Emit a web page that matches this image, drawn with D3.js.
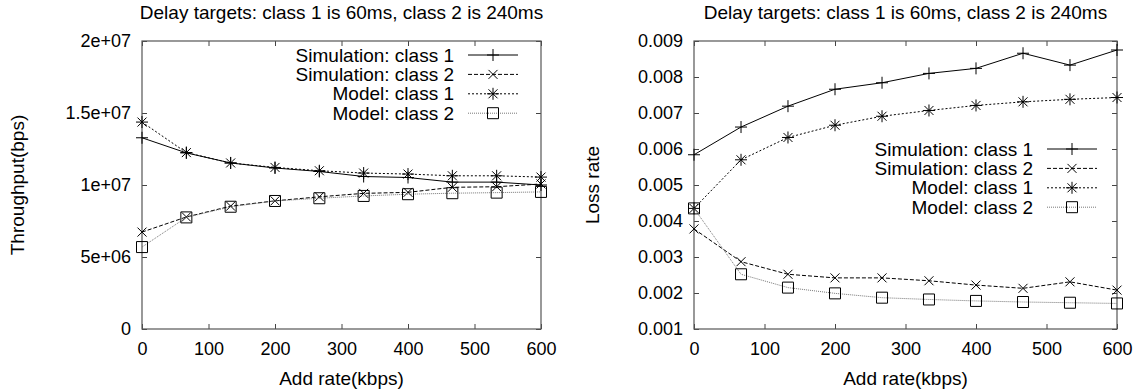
<!DOCTYPE html>
<html>
<head>
<meta charset="utf-8">
<script src="https://cdn.jsdelivr.net/npm/d3@7"></script>
<style>
    body { margin: 0; background: #fff; }
    text { font-family: "Liberation Sans", Arial, sans-serif; fill: #000; }
</style>
</head>
<body>
<div id="chart"></div>
<script>
const dim = {
    width: 1139,
    height: 392
}

// data
const addRate = [0, 66.7, 133.3, 200, 266.7, 333.3, 400, 466.7, 533.3, 600]

const simClass1Tput = [13.28e6, 12.23e6, 11.53e6, 11.18e6, 10.94e6, 10.59e6, 10.52e6, 10.2e6, 10.2e6, 10.0e6]
const simClass2Tput = [6.73e6, 7.78e6, 8.53e6, 8.90e6, 9.18e6, 9.42e6, 9.49e6, 9.84e6, 9.88e6, 10.07e6]
const modelClass1Tput = [14.37e6, 12.25e6, 11.53e6, 11.22e6, 10.99e6, 10.83e6, 10.76e6, 10.64e6, 10.64e6, 10.55e6]
const modelClass2Tput = [5.69e6, 7.75e6, 8.49e6, 8.89e6, 9.08e6, 9.24e6, 9.36e6, 9.43e6, 9.47e6, 9.52e6]

const simClass1Loss = [0.00584, 0.00661, 0.00719, 0.00766, 0.00784, 0.00810, 0.00824, 0.00866, 0.00833, 0.00875]
const simClass2Loss = [0.00378, 0.00287, 0.00252, 0.00242, 0.00242, 0.00234, 0.00222, 0.00213, 0.00231, 0.00208]
const modelClass1Loss = [0.00435, 0.0057, 0.00632, 0.00666, 0.00691, 0.00707, 0.00721, 0.00731, 0.00738, 0.00743]
const modelClass2Loss = [0.00435, 0.00252, 0.00215, 0.00199, 0.00187, 0.00182, 0.00178, 0.00175, 0.00173, 0.00171]

const xTicks = [0, 100, 200, 300, 400, 500, 600]
const tputTicks = [0, 5e6, 1e7, 1.5e7, 2e7]
const tputTickLabels = ['0', '5e+06', '1e+07', '1.5e+07', '2e+07']
const lossTicks = [0.001, 0.002, 0.003, 0.004, 0.005, 0.006, 0.007, 0.008, 0.009]
const lossTickLabels = ['0.001', '0.002', '0.003', '0.004', '0.005', '0.006', '0.007', '0.008', '0.009']

const seriesNames = ['Simulation: class 1', 'Simulation: class 2', 'Model: class 1', 'Model: class 2']
const title = 'Delay targets: class 1 is 60ms, class 2 is 240ms'

// line / marker styles per series
const styles = [
    { dash: null, color: '#000', marker: 'plus' },
    { dash: '4,2', color: '#000', marker: 'cross' },
    { dash: '2,2', color: '#000', marker: 'star' },
    { dash: '1,1', color: '#777', marker: 'square' }
]

const fontSize = 19
const tickFontSize = 18

const svg = d3.select('#chart')
    .append('svg')
        .attr('width', dim.width)
        .attr('height', dim.height)

function markerPath(type, s) {
    const p = d3.path()
    if (type === 'plus' || type === 'star') {
        p.moveTo(-s, 0); p.lineTo(s, 0)
        p.moveTo(0, -s); p.lineTo(0, s)
    }
    if (type === 'cross' || type === 'star') {
        const k = s * 0.75
        p.moveTo(-k, -k); p.lineTo(k, k)
        p.moveTo(-k, k); p.lineTo(k, -k)
    }
    if (type === 'square') {
        p.rect(-s + 0.5, -s + 0.5, 2 * s - 1, 2 * s - 1)
    }
    return p.toString()
}

function drawPanel(cfg) {
    const g = svg.append('g')

    const xScale = d3.scaleLinear()
        .domain([0, 600])
        .range([cfg.left, cfg.right])

    const yScale = d3.scaleLinear()
        .domain(cfg.yDomain)
        .range([cfg.bottom, cfg.top])

    // axes, ticks point inwards like gnuplot
    g.append('g')
        .attr('transform', `translate(0,${cfg.bottom})`)
        .call(d3.axisBottom(xScale).tickValues(xTicks).tickSizeInner(-5).tickSizeOuter(0).tickPadding(13))
    g.append('g')
        .attr('transform', `translate(0,${cfg.top})`)
        .call(d3.axisTop(xScale).tickValues(xTicks).tickSizeInner(-5).tickSizeOuter(0).tickFormat(''))
    g.append('g')
        .attr('transform', `translate(${cfg.left},0)`)
        .call(d3.axisLeft(yScale).tickValues(cfg.yTicks).tickSizeInner(-5).tickSizeOuter(0).tickPadding(11)
            .tickFormat((d, i) => cfg.yTickLabels[i]))
    g.append('g')
        .attr('transform', `translate(${cfg.right},0)`)
        .call(d3.axisRight(yScale).tickValues(cfg.yTicks).tickSizeInner(-5).tickSizeOuter(0).tickFormat(''))

    g.selectAll('.domain').remove()
    g.selectAll('.tick line').attr('stroke', '#444')
    g.selectAll('.tick text')
        .style('font-size', tickFontSize + 'px')
        .style('font-family', '"Liberation Sans", Arial, sans-serif')
        .attr('fill', '#000')

    g.append('rect')
        .attr('x', cfg.left)
        .attr('y', cfg.top)
        .attr('width', cfg.right - cfg.left)
        .attr('height', cfg.bottom - cfg.top)
        .attr('fill', 'none')
        .attr('stroke', '#555')
        .attr('stroke-width', 1.2)

    // series
    const line = d3.line()
        .x((d, i) => xScale(addRate[i]))
        .y(d => yScale(d))

    cfg.series.forEach((values, k) => {
        const st = styles[k]
        g.append('path')
            .datum(values)
            .attr('d', line)
            .attr('fill', 'none')
            .attr('stroke', st.color)
            .attr('stroke-width', 1)
            .attr('stroke-dasharray', st.dash)

        g.append('g')
            .selectAll('path')
            .data(values)
            .join('path')
                .attr('transform', (d, i) => `translate(${xScale(addRate[i])},${yScale(d)})`)
                .attr('d', markerPath(st.marker, 6))
                .attr('fill', 'none')
                .attr('stroke', '#000')
                .attr('stroke-width', 1)
    })

    // legend
    const legend = g.append('g')
    seriesNames.forEach((name, k) => {
        const st = styles[k]
        const y = cfg.legendTop + k * 19.4
        legend.append('text')
            .attr('x', cfg.legendText)
            .attr('y', y)
            .attr('dy', '0.35em')
            .attr('text-anchor', 'end')
            .style('font-size', fontSize + 'px')
            .text(name)
        legend.append('line')
            .attr('x1', cfg.legendText + 14)
            .attr('x2', cfg.legendText + 64)
            .attr('y1', y)
            .attr('y2', y)
            .attr('stroke', st.color)
            .attr('stroke-dasharray', st.dash)
        legend.append('path')
            .attr('transform', `translate(${cfg.legendText + 39},${y})`)
            .attr('d', markerPath(st.marker, 6))
            .attr('fill', 'none')
            .attr('stroke', '#000')
    })

    // titles
    const cx = (cfg.left + cfg.right) / 2
    g.append('text')
        .attr('x', cx)
        .attr('y', 19)
        .attr('text-anchor', 'middle')
        .style('font-size', fontSize + 'px')
        .text(title)
    g.append('text')
        .attr('x', cx)
        .attr('y', 385)
        .attr('text-anchor', 'middle')
        .style('font-size', fontSize + 'px')
        .text('Add rate(kbps)')
    g.append('text')
        .attr('transform', `translate(${cfg.yLabelX},${(cfg.top + cfg.bottom) / 2}) rotate(-90)`)
        .attr('dy', '0.35em')
        .attr('text-anchor', 'middle')
        .style('font-size', fontSize + 'px')
        .text(cfg.yLabel)
}

drawPanel({
    left: 142, right: 541, top: 41, bottom: 329,
    yDomain: [0, 2e7],
    yTicks: tputTicks,
    yTickLabels: tputTickLabels,
    yLabel: 'Throughput(bps)',
    yLabelX: 17,
    series: [simClass1Tput, simClass2Tput, modelClass1Tput, modelClass2Tput],
    legendText: 454,
    legendTop: 55
})

drawPanel({
    left: 694, right: 1117, top: 41, bottom: 329,
    yDomain: [0.001, 0.009],
    yTicks: lossTicks,
    yTickLabels: lossTickLabels,
    yLabel: 'Loss rate',
    yLabelX: 592,
    series: [simClass1Loss, simClass2Loss, modelClass1Loss, modelClass2Loss],
    legendText: 1033,
    legendTop: 149
})
</script>
</body>
</html>
